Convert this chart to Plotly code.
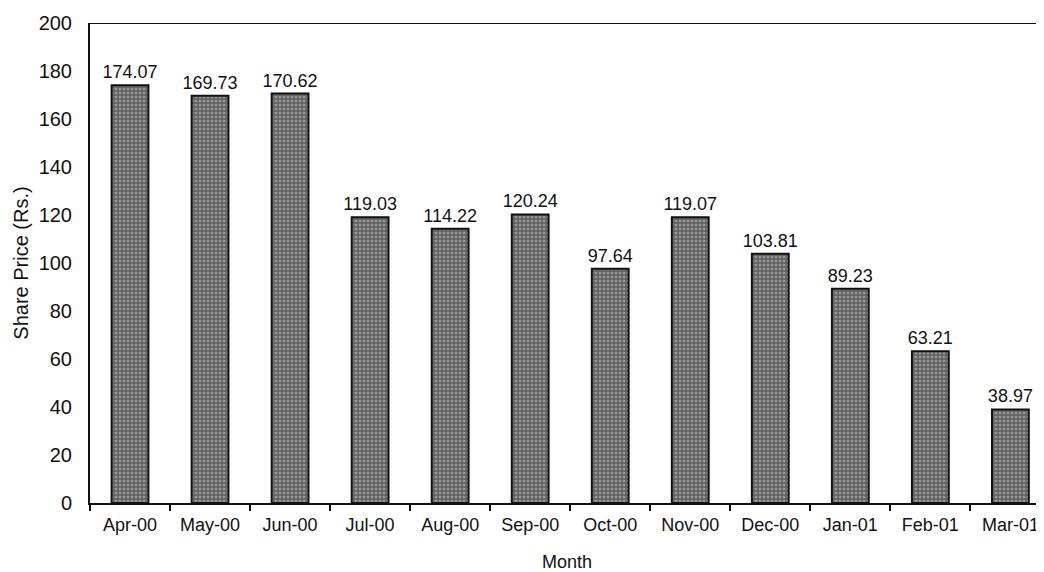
import plotly.graph_objects as go

months = ["Apr-00", "May-00", "Jun-00", "Jul-00", "Aug-00", "Sep-00",
          "Oct-00", "Nov-00", "Dec-00", "Jan-01", "Feb-01", "Mar-01"]
prices = [174.07, 169.73, 170.62, 119.03, 114.22, 120.24,
          97.64, 119.07, 103.81, 89.23, 63.21, 38.97]
labels = [f"{v:.2f}" for v in prices]

FONT = "Liberation Sans, Arial, sans-serif"

fig = go.Figure(go.Bar(
    x=months, y=prices, text=labels, textposition="outside",
    textfont=dict(family=FONT, size=18, color="#111"),
    textangle=0, constraintext="none",
    cliponaxis=False,
    width=0.46,
    marker=dict(color="#707070", line=dict(color="#111111", width=2),
                pattern=dict(shape=".", fgcolor="#cfcfcf", bgcolor="#646464", size=4, solidity=0.35)),
))

fig.update_layout(
    width=1036, height=564,
    margin=dict(l=82, r=0, t=15, b=69),
    plot_bgcolor="white", paper_bgcolor="white",
    font=dict(family=FONT, size=18, color="#111"),
    showlegend=False,
)
fig.update_xaxes(
    title=dict(text="Month", font=dict(size=18), standoff=25),
    automargin=False,
    range=[-0.5, 11.42],
    showline=True, linecolor="#111", linewidth=2,
    ticks="outside", ticklen=6, tickwidth=2, tickcolor="#111",
    tickson="boundaries", showgrid=False, ticklabelstandoff=4,
    tickfont=dict(size=18),
)
fig.update_yaxes(
    title=dict(text="Share Price (Rs.)", font=dict(size=20), standoff=5),
    automargin=False,
    range=[0, 200], dtick=20,
    showline=True, linecolor="#111", linewidth=2,
    ticks="", ticklabelstandoff=12,
    showgrid=False, zeroline=False,
    tickfont=dict(size=20),
)
fig.add_shape(type="line", xref="paper", yref="y", x0=0, x1=1, y0=200, y1=200,
              line=dict(color="#111", width=2))

fig.write_html("out.html")
